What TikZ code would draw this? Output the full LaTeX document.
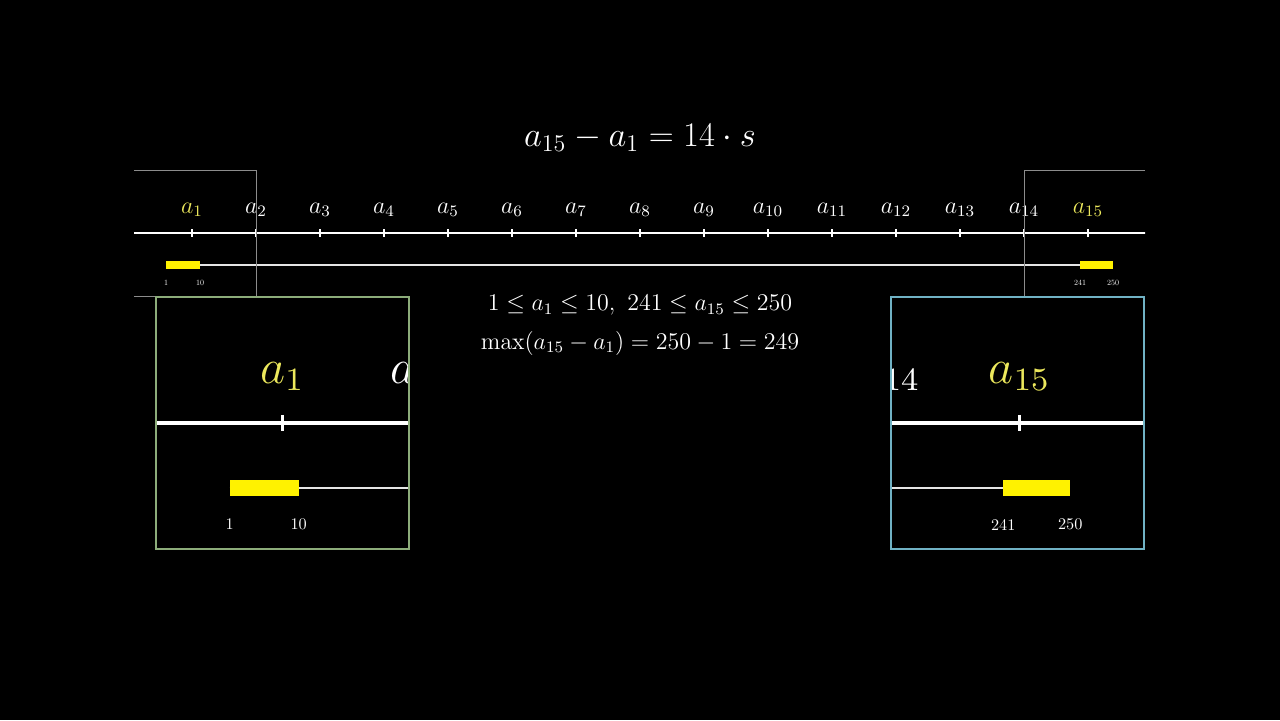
\documentclass[tikz,border=0pt]{standalone}
\usepackage{amsmath}
\definecolor{hl}{RGB}{236,232,92}
\definecolor{zoomgreen}{RGB}{140,172,122}
\definecolor{zoomblue}{RGB}{112,178,196}
\definecolor{framegray}{RGB}{140,140,140}
\tikzset{
  axis/.style={white,line width=1pt},
  tickmark/.style={white,line width=0.8pt},
  ruler/.style={white!90!black,line width=0.7pt},
  rangebar/.style={fill=yellow,draw=none},
  lbl/.style={white,font=\fontsize{11.5}{14}\selectfont,inner sep=0pt},
  tiny/.style={white,font=\fontsize{10}{12}\selectfont,scale=0.4,inner sep=0pt},
  formula/.style={white,font=\fontsize{12}{14}\selectfont,inner sep=0pt},
  zoombox/.style={line width=1pt},
  graybox/.style={framegray,line width=0.4pt}
}
% number line with the two ranges, #1 = prefix of node names
\newcommand{\numline}[1]{%
  \draw[axis] (126,233) -- (1154,233);
  \foreach \i in {1,...,15}{
    \pgfmathsetmacro{\x}{192+64*(\i-1)}
    \draw[tickmark] (\x,229) -- (\x,237);
  }
  \foreach \i in {2,...,14}{
    \pgfmathsetmacro{\x}{192+64*(\i-1)}
    \node[lbl] (#1a\i) at (\x,210) {$a_{\i}$};
  }
  \node[lbl,hl] (#1a1) at (192,210) {$a_{1}$};
  \node[lbl,hl] (#1a15) at (1088,210) {$a_{15}$};
  \draw[ruler] (166,265) -- (1113,265);
  \fill[rangebar] (166,261) rectangle (200,269);
  \fill[rangebar] (1080,261) rectangle (1113,269);
  \node[tiny] (#1lo) at (166,283) {1};
  \node[tiny] (#1hi) at (200,283) {10};
  \node[tiny] (#1LO) at (1080,283) {241};
  \node[tiny] (#1HI) at (1113,283) {250};
}

\begin{document}
\begin{tikzpicture}[x=0.5pt,y=-0.5pt]
\fill[black] (0,0) rectangle (1280,720);
\useasboundingbox (0,0) rectangle (1280,720);
\node[white,font=\fontsize{16.5}{20}\selectfont] (title) at (640,138) {$a_{15}-a_1=14\cdot s$};
\begin{scope}
\clip (134,0) rectangle (1145,720);
\numline{m}
\end{scope}
\draw[graybox] (134,170) -- (256,170) -- (256,296) -- (134,296);
\draw[graybox] (1145,170) -- (1024,170) -- (1024,296);
\node[formula] (bounds) at (640,305) {$1\le a_1\le 10,\ 241\le a_{15}\le 250$};
\node[formula] (maxdiff) at (640,343) {$\max(a_{15}-a_1)=250-1=249$};
% zoom on a_1
\begin{scope}
\clip (156,297) rectangle (409,549);
\begin{scope}[transform canvas={shift={(-107.26,-49.99)},scale=2.03}]
\numline{l}
\end{scope}
\end{scope}
\draw[zoombox,zoomgreen] (156,297) rectangle (409,549);
% zoom on a_15
\begin{scope}
\clip (891,297) rectangle (1144,549);
\begin{scope}[transform canvas={shift={(-1189.14,-49.99)},scale=2.03}]
\numline{r}
\end{scope}
\end{scope}
\draw[zoombox,zoomblue] (891,297) rectangle (1144,549);
\end{tikzpicture}
\end{document}
